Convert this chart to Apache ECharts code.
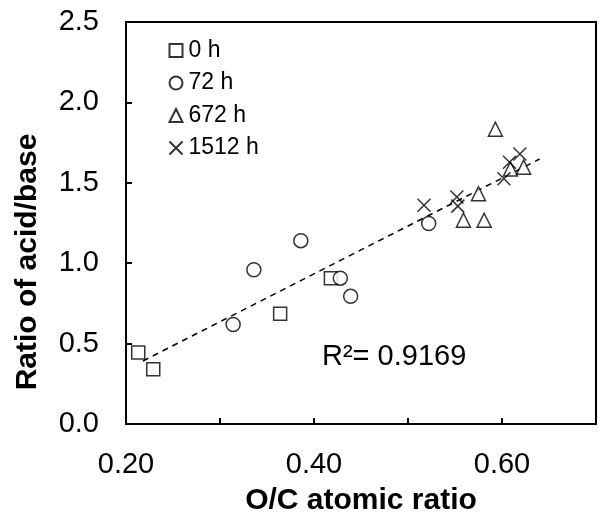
<!DOCTYPE html>
<html>
<head>
<meta charset="utf-8">
<script src="https://cdn.jsdelivr.net/npm/echarts@6/dist/echarts.min.js"></script>
<style>html,body{margin:0;padding:0;background:#fff}#c{width:599px;height:521px}</style>
</head>
<body>
<div id="c"></div>
<script>
var seriesNames = ['0 h', '72 h', '672 h', '1512 h'];
var data0h = [[0.213, 0.444], [0.229, 0.340], [0.364, 0.685], [0.418, 0.907]];
var data72h = [[0.314, 0.619], [0.336, 0.959], [0.386, 1.140], [0.428, 0.907], [0.439, 0.794], [0.522, 1.247]];
var data672h = [[0.593, 1.833], [0.575, 1.432], [0.559, 1.267], [0.581, 1.267], [0.609, 1.586], [0.623, 1.597]];
var data1512h = [[0.517, 1.360], [0.552, 1.412], [0.553, 1.355], [0.602, 1.525], [0.608, 1.628], [0.619, 1.679]];
var trendLine = [[0.218, 0.392], [0.640, 1.648]];
var xTickLabels = ['0.20', '0.40', '0.60'];
var yTickLabels = ['0.0', '0.5', '1.0', '1.5', '2.0', '2.5'];
var xTitle = 'O/C atomic ratio';
var yTitle = 'Ratio of acid/base';
var rSquaredText = 'R²= 0.9169';

var FONT = '"Liberation Sans", Arial, sans-serif';
var chart = echarts.init(document.getElementById('c'), null, {renderer: 'canvas'});
var hollow = {color: '#fff', borderColor: '#000', borderWidth: 1.5};
var crossPath = 'path://M0,0L10,10M10,0L0,10';

function sc(name, data, symbol, size, style) {
  return {
    name: name, type: 'scatter', data: data, symbol: symbol, symbolSize: size,
    itemStyle: style, emphasis: {disabled: true}, z: 3
  };
}

chart.setOption({
  animation: false,
  backgroundColor: '#fff',
  grid: {left: 126, top: 22, width: 470, height: 405, show: true, borderColor: '#000', borderWidth: 2, containLabel: false},
  legend: {
    orient: 'vertical', left: 162, top: 34, itemWidth: 13, itemHeight: 13, itemGap: 9.5,
    data: seriesNames,
    textStyle: {fontFamily: FONT, fontSize: 23, color: '#000', padding: [0, 0, 0, 1]},
    selectedMode: false
  },
  xAxis: {
    type: 'value', min: 0.2, max: 0.7, interval: 0.1,
    name: xTitle, nameLocation: 'middle', nameGap: 62,
    nameTextStyle: {fontFamily: FONT, fontSize: 30, fontWeight: 'bold', color: '#000'},
    axisLine: {show: true, lineStyle: {color: '#000', width: 2}},
    axisTick: {show: true, inside: true, length: 6, lineStyle: {color: '#000', width: 2}},
    splitLine: {show: false},
    axisLabel: {
      fontFamily: FONT, fontSize: 29, color: '#000', margin: 26,
      formatter: function (v) {
        var s = v.toFixed(2);
        return xTickLabels.indexOf(s) >= 0 ? s : '';
      }
    }
  },
  yAxis: {
    type: 'value', min: 0, max: 2.5, interval: 0.5,
    axisLine: {show: true, lineStyle: {color: '#000', width: 2}},
    axisTick: {show: true, inside: true, length: 6, lineStyle: {color: '#000', width: 2}},
    splitLine: {show: false},
    axisLabel: {
      fontFamily: FONT, fontSize: 29, color: '#000', margin: 27,
      formatter: function (v) {
        var s = v.toFixed(1);
        return yTickLabels.indexOf(s) >= 0 ? s : '';
      }
    }
  },
  graphic: [{
    type: 'text', left: 322, top: 342,
    style: {text: rSquaredText, fontFamily: FONT, fontSize: 29, fill: '#000'}
  }, {
    type: 'text', x: 28, y: 262, rotation: Math.PI / 2,
    style: {text: yTitle, fontFamily: FONT, fontSize: 30, fontWeight: 'bold', fill: '#000', align: 'center', verticalAlign: 'middle'}
  }],
  series: [
    {
      name: 'trend', type: 'line', data: trendLine, symbol: 'none', silent: true,
      lineStyle: {color: '#000', width: 1.5, type: [6, 5]}, z: 2
    },
    sc(seriesNames[0], data0h, 'rect', 13, hollow),
    sc(seriesNames[1], data72h, 'circle', 14, hollow),
    sc(seriesNames[2], data672h, 'triangle', 14, hollow),
    sc(seriesNames[3], data1512h, crossPath, 13, {color: 'none', borderColor: '#000', borderWidth: 1.5})
  ]
});
</script>
</body>
</html>
